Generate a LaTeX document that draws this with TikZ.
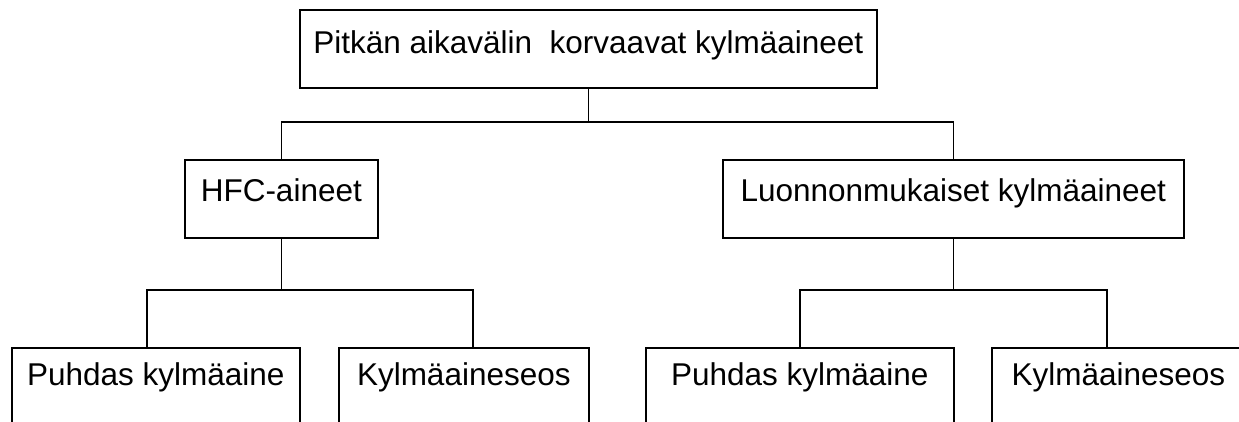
\documentclass[tikz,border=0pt]{standalone}
\usepackage{fontspec}
\setmainfont{Liberation Sans}
\usetikzlibrary{calc}
\begin{document}
\begin{tikzpicture}[x=1pt,y=-1pt,
  line width=1.6pt,
  box/.style={draw, anchor=north west, inner sep=0pt, align=center,
    font=\fontsize{31.5}{38}\selectfont},
  toplevel/.style={box, text height=44pt, text depth=34pt},
  midlevel/.style={box, text height=42pt, text depth=36pt},
  lowlevel/.style={box, text height=38pt, text depth=90pt},
  link/.style={draw, line width=1.6pt}]
\useasboundingbox (0,0) rectangle (1239,421);
\clip (0,0) rectangle (1239,421);
\fill[white] (0,0) rectangle (1239,421);

\node[toplevel, minimum width=577pt] (top) at (299,9) {Pitkän aikavälin\ \ korvaavat kylmäaineet};
\node[midlevel, minimum width=193pt] (hfc) at (184,159) {HFC-aineet};
\node[midlevel, minimum width=461pt] (luo) at (722,159) {Luonnonmukaiset kylmäaineet};
\node[lowlevel, minimum width=288pt] (p1) at (11,347) {Puhdas kylmäaine};
\node[lowlevel, minimum width=250pt] (k1) at (338,347) {Kylmäaineseos};
\node[lowlevel, minimum width=308pt] (p2) at (645,347) {Puhdas kylmäaine};
\node[lowlevel, minimum width=253pt] (k2) at (991,347) {Kylmäaineseos};

\coordinate (bar1) at (0,122);
\coordinate (bar2) at (0,290);
\coordinate (p1c) at ($(p1.north)+(-9,0)$);
\coordinate (k1c) at ($(k1.north)+(9,0)$);
\coordinate (p2c) at (p2.north);
\coordinate (k2c) at ($(k2.north)+(-11.5,0)$);

\path[link] (top.south) -- (top.south |- bar1);
\path[link] (hfc.north) |- (luo.north |- bar1) -- (luo.north);

\path[link] (hfc.south) -- (hfc.south |- bar2);
\path[link] (p1c) |- (k1c |- bar2) -- (k1c);

\path[link] (luo.south) -- (luo.south |- bar2);
\path[link] (p2c) |- (k2c |- bar2) -- (k2c);
\end{tikzpicture}
\end{document}
